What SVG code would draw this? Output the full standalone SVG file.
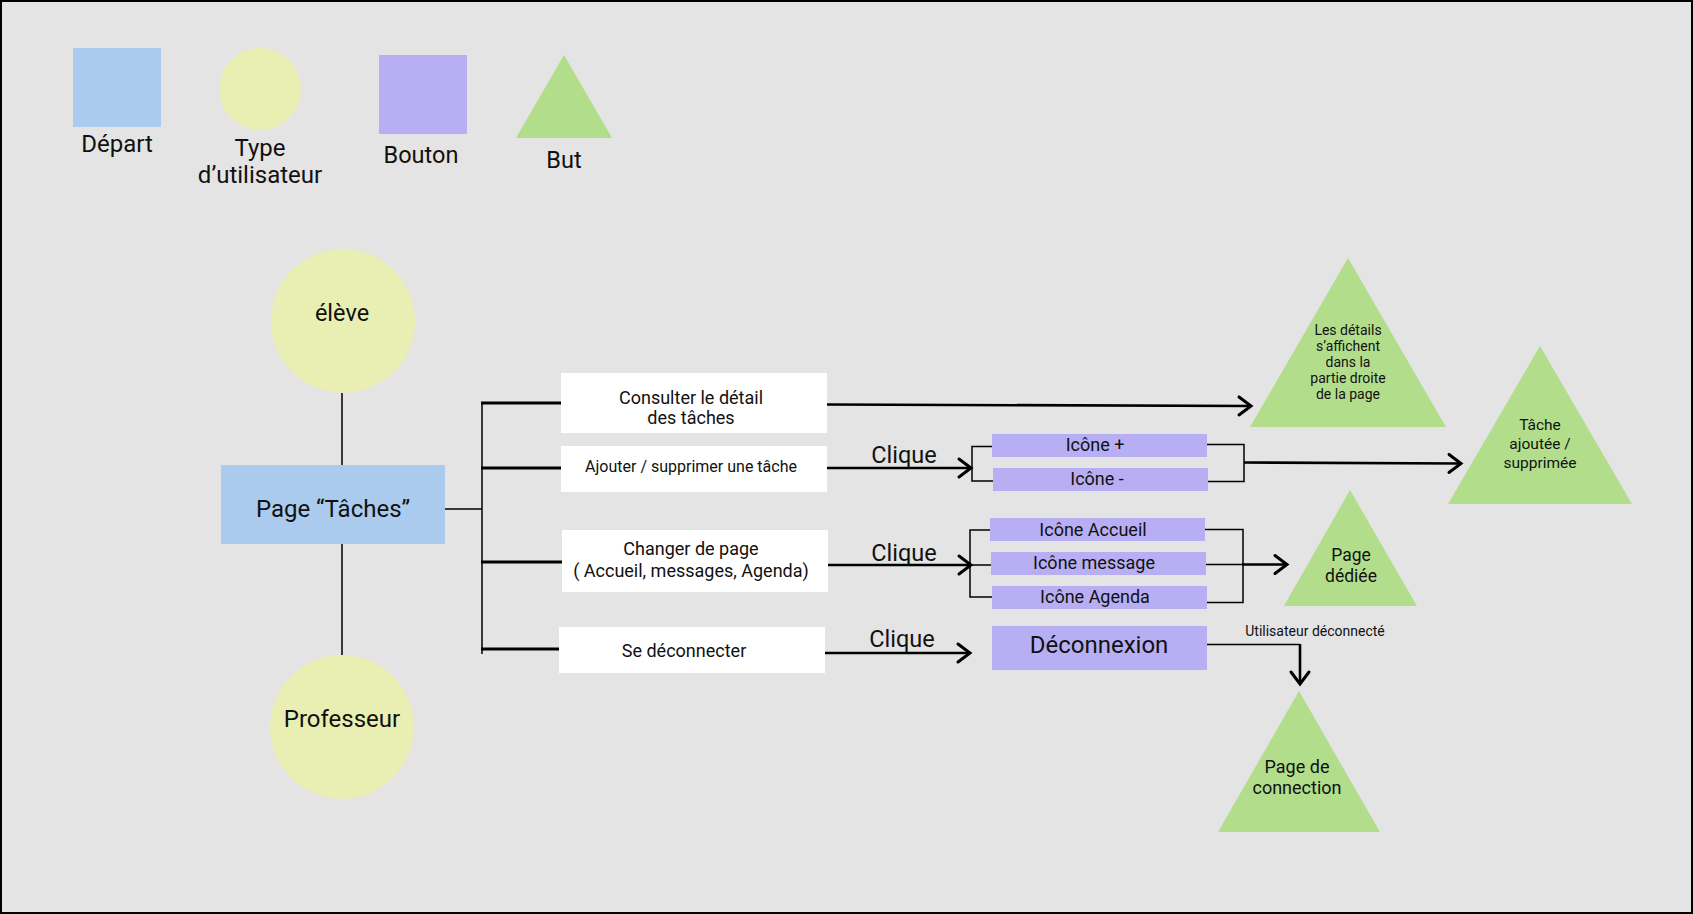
<svg xmlns="http://www.w3.org/2000/svg" width="1693" height="914" viewBox="0 0 1693 914">
<defs>
<marker id="chev" viewBox="-14 -11 16 22" refX="0" refY="0" markerWidth="16" markerHeight="22" markerUnits="userSpaceOnUse" orient="auto" overflow="visible">
<path d="M-12,-9 L0,0 L-12,9" fill="none" stroke="#000" stroke-width="3" stroke-linecap="round" stroke-linejoin="miter"/>
</marker>
</defs>
<style>
text{font-family:Roboto,"Noto Sans","Liberation Sans",sans-serif;fill:#111;text-anchor:middle}
.start{fill:#aacbee}
.user{fill:#e9eeb3}
.btn{fill:#b8aef3}
.goal{fill:#b2de8c}
.box{fill:#ffffff}
.thin{fill:none;stroke:#000;stroke-width:1.5}
.thick{fill:none;stroke:#000;stroke-width:3}
.arrow{fill:none;stroke:#000;stroke-width:2.6;marker-end:url(#chev)}
</style>
<rect x="1" y="1" width="1691" height="912" fill="#e4e4e4" stroke="#000" stroke-width="2"/>

<g id="legend">
<g id="legend-depart"><rect class="start" x="73" y="48" width="88" height="79"/><text x="117" y="152" font-size="24">Départ</text></g>
<g id="legend-type"><circle class="user" cx="260" cy="89" r="41"/><text x="260" y="156" font-size="24">Type</text><text x="260" y="183" font-size="24">d’utilisateur</text></g>
<g id="legend-bouton"><rect class="btn" x="379" y="55" width="88" height="79"/><text x="421" y="163" font-size="23.5">Bouton</text></g>
<g id="legend-but"><polygon class="goal" points="564,55 612,138 516,138"/><text x="564" y="168" font-size="23.5">But</text></g>
</g>

<g id="connectors">
<line class="thin" x1="342" y1="393" x2="342" y2="465"/>
<line class="thin" x1="342" y1="544" x2="342" y2="655"/>
<line class="thin" x1="445" y1="509" x2="482" y2="509"/>
<line class="thin" x1="482" y1="402" x2="482" y2="654"/>
<line class="thick" x1="481" y1="403" x2="561" y2="403"/>
<line class="thick" x1="481" y1="468" x2="561" y2="468"/>
<line class="thick" x1="481" y1="562" x2="562" y2="562"/>
<line class="thick" x1="481" y1="649" x2="559" y2="649"/>
<line class="arrow" x1="827" y1="404.5" x2="1251" y2="406"/>
<line class="arrow" x1="827" y1="468" x2="971" y2="468"/>
<line class="arrow" x1="828" y1="565" x2="971" y2="565"/>
<line class="arrow" x1="825" y1="653" x2="970" y2="653"/>
<polyline class="thin" points="992,446.5 972,446.5 972,481 993,481"/>
<polyline class="thin" points="1207,444.5 1244,444.5 1244,481.5 1208,481.5"/>
<line class="arrow" x1="1244" y1="462.5" x2="1461" y2="463.5"/>
<polyline class="thin" points="990,530 970,530 970,597 992,597"/>
<line class="thin" x1="970" y1="565" x2="991" y2="565"/>
<polyline class="thin" points="1205,529.5 1243,529.5 1243,602.5 1207,602.5"/>
<line class="thin" x1="1206" y1="564.5" x2="1243" y2="564.5"/>
<line class="arrow" x1="1242" y1="564.5" x2="1287" y2="564.5"/>
<polyline class="thin" points="1207,644.5 1300,644.5"/>
<line class="arrow" x1="1300" y1="644" x2="1300" y2="684"/>
<text x="904" y="463" font-size="23.5">Clique</text>
<text x="904" y="561" font-size="23.5">Clique</text>
<text x="902" y="647" font-size="23.5">Clique</text>
<text x="1315" y="636" font-size="14">Utilisateur déconnecté</text>
</g>

<g id="eleve"><circle class="user" cx="343" cy="321" r="72"/><text x="342" y="321" font-size="23.5">élève</text></g>
<g id="professeur"><circle class="user" cx="342" cy="727" r="72"/><text x="342" y="727" font-size="24">Professeur</text></g>
<g id="page-taches"><rect class="start" x="221" y="465" width="224" height="79"/><text x="333" y="517" font-size="24">Page “Tâches”</text></g>

<g id="consulter"><rect class="box" x="561" y="373" width="266" height="60"/><text x="691" y="404" font-size="18">Consulter le détail</text><text x="691" y="423.5" font-size="18">des tâches</text></g>
<g id="ajouter"><rect class="box" x="561" y="446" width="266" height="46"/><text x="691" y="472" font-size="16">Ajouter / supprimer une tâche</text></g>
<g id="changer"><rect class="box" x="562" y="530" width="266" height="62"/><text x="691" y="555" font-size="18">Changer de page</text><text x="691" y="577" font-size="18">( Accueil, messages, Agenda)</text></g>
<g id="deconnecter"><rect class="box" x="559" y="627" width="266" height="46"/><text x="684" y="657" font-size="18">Se déconnecter</text></g>

<g id="icone-plus"><rect class="btn" x="992" y="434" width="215" height="23"/><text x="1095" y="451" font-size="18">Icône +</text></g>
<g id="icone-moins"><rect class="btn" x="993" y="468" width="215" height="23"/><text x="1097" y="485" font-size="18">Icône -</text></g>
<g id="icone-accueil"><rect class="btn" x="990" y="518" width="215" height="23"/><text x="1093" y="535.5" font-size="18">Icône Accueil</text></g>
<g id="icone-message"><rect class="btn" x="991" y="552" width="215" height="23"/><text x="1094" y="569" font-size="18">Icône message</text></g>
<g id="icone-agenda"><rect class="btn" x="992" y="586" width="215" height="23"/><text x="1095" y="603" font-size="18">Icône Agenda</text></g>
<g id="deconnexion"><rect class="btn" x="992" y="626" width="215" height="44"/><text x="1099" y="653" font-size="24">Déconnexion</text></g>

<g id="but-details"><polygon class="goal" points="1348,258 1446,427 1250,427"/>
<text x="1348" y="335" font-size="14">Les détails</text><text x="1348" y="351" font-size="14">s’affichent</text><text x="1348" y="367" font-size="14">dans la</text><text x="1348" y="383" font-size="14">partie droite</text><text x="1348" y="399" font-size="14">de la page</text></g>
<g id="but-tache"><polygon class="goal" points="1540,346 1632,504 1448,504"/>
<text x="1540" y="430" font-size="15.5">Tâche</text><text x="1540" y="449" font-size="15.5">ajoutée /</text><text x="1540" y="468" font-size="15.5">supprimée</text></g>
<g id="but-page-dediee"><polygon class="goal" points="1350,490 1417,606 1284,606"/>
<text x="1351" y="561" font-size="17.5">Page</text><text x="1351" y="582" font-size="17.5">dédiée</text></g>
<g id="but-connection"><polygon class="goal" points="1299,691 1380,832 1218,832"/>
<text x="1297" y="773" font-size="18">Page de</text><text x="1297" y="794" font-size="18">connection</text></g>
</svg>
